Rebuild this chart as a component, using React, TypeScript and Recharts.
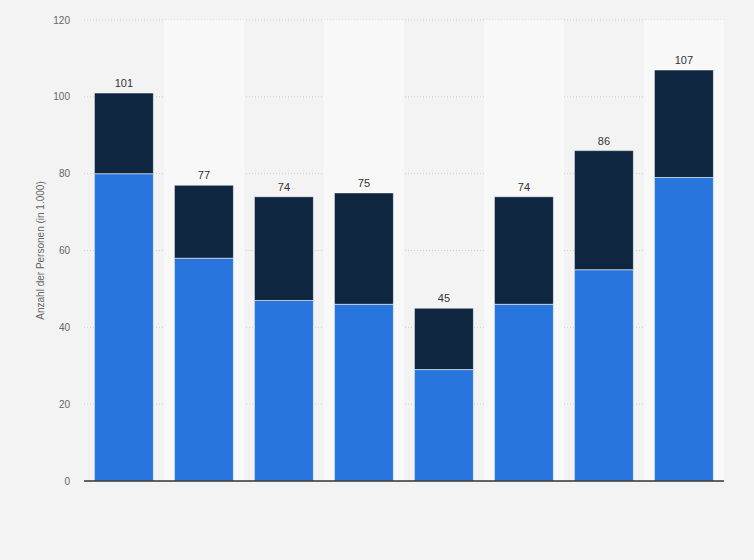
import { BarChart, Bar, XAxis, YAxis, CartesianGrid, ReferenceArea, ReferenceLine, LabelList } from 'recharts';

const categories = ['K1', 'K2', 'K3', 'K4', 'K5', 'K6', 'K7', 'K8'];
const lowerValues = [80, 58, 47, 46, 29, 46, 55, 79];
const totals = [101, 77, 74, 75, 45, 74, 86, 107];
const yTicks = [0, 20, 40, 60, 80, 100, 120];

const data = categories.map((name, i) => ({
  name,
  lower: lowerValues[i],
  upper: totals[i] - lowerValues[i],
  total: totals[i],
}));

// lighter columns behind every second category
const bandCategories = categories.filter((_, i) => i % 2 === 1);

export default function App() {
  return (
    <div style={{ position: 'absolute', left: 0, top: 0, width: 754, height: 560, background: '#f3f3f3' }}>
      <BarChart
        width={754}
        height={560}
        data={data}
        margin={{ top: 20, right: 30, left: 0, bottom: 79 }}
        barCategoryGap="13%"
        style={{ fontFamily: 'Arial, "Liberation Sans", sans-serif' }}
      >
        {bandCategories.map((c) => (
          <ReferenceArea key={c} x1={c} x2={c} y1={0} y2={120} fill="#f8f8f8" fillOpacity={1} stroke="none" />
        ))}
        <CartesianGrid vertical={false} stroke="#cfcfcf" strokeDasharray="1 2" />
        <XAxis dataKey="name" tick={false} tickLine={false} axisLine={false} height={0} />
        <YAxis
          width={84}
          domain={[0, 120]}
          ticks={yTicks}
          tickLine={false}
          axisLine={false}
          tick={{ fontSize: 10, fill: '#666' }}
          tickMargin={8}
          label={{ value: 'Anzahl der Personen (in 1.000)', angle: -90, position: 'center', dx: -2, style: { fontSize: 10, fill: '#666' } }}
        />
        <Bar dataKey="lower" stackId="a" fill="#2876dd" stroke="#ffffff" strokeOpacity={0.55} strokeWidth={1} isAnimationActive={false} />
        <Bar dataKey="upper" stackId="a" fill="#0f2640" stroke="#ffffff" strokeOpacity={0.55} strokeWidth={1} isAnimationActive={false}>
          <LabelList dataKey="total" position="top" offset={6} fill="#333" style={{ fontSize: 11, fill: '#333' }} />
        </Bar>
        <ReferenceLine y={0} stroke="#333" strokeWidth={1.5} />
      </BarChart>
    </div>
  );
}
